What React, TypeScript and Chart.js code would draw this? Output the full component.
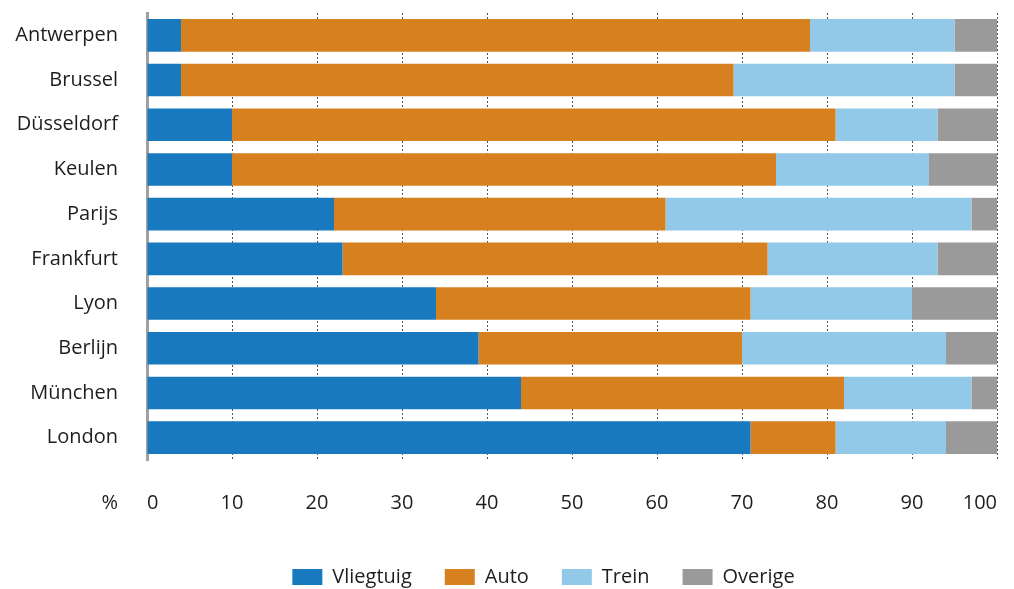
import React, { useEffect, useRef } from "react";
import { Chart, registerables } from "chart.js";

Chart.register(...registerables);

const categories = ["Antwerpen", "Brussel", "Düsseldorf", "Keulen", "Parijs", "Frankfurt", "Lyon", "Berlijn", "München", "London"];
const vliegtuig = [4, 4, 10, 10, 22, 23, 34, 39, 44, 71];
const auto = [74, 65, 71, 64, 39, 50, 37, 31, 38, 10];
const trein = [17, 26, 12, 18, 36, 20, 19, 24, 15, 13];
const overige = [5, 5, 7, 8, 3, 7, 10, 6, 3, 6];
const seriesNames = ["Vliegtuig", "Auto", "Trein", "Overige"];
const seriesColors = ["#1879bf", "#d7801f", "#92c9e8", "#9a9a9a"];
const axisUnit = "%";

const FONT = '"Open Sans", "Noto Sans", sans-serif';
const TEXT = "#1e1e1e";
const TICK_PAD = 31;

const percentPlugin = {
  id: "percentLabel",
  afterLayout(chart: any) {
    // centre the legend under the plotting region like the original
    if (chart.legend) {
      chart.legend.left = 90;
    }
  },
  afterDraw(chart: any) {
    const x = chart.scales.x;
    const ctx = chart.ctx;
    ctx.save();
    ctx.font = `20px ${FONT}`;
    ctx.fillStyle = TEXT;
    ctx.textAlign = "right";
    ctx.textBaseline = "middle";
    ctx.fillText(axisUnit, chart.chartArea.left - 29, x.top + TICK_PAD + 12);
    ctx.restore();
  },
};

function zeroPadding(scale: any) {
  scale.paddingTop = 0;
  scale.paddingBottom = 0;
  scale.paddingLeft = 0;
  scale.paddingRight = 0;
}

export default function App() {
  const ref = useRef<HTMLCanvasElement | null>(null);

  useEffect(() => {
    if (!ref.current) return;
    const data = [vliegtuig, auto, trein, overige];
    const chart = new Chart(ref.current, {
      type: "bar",
      data: {
        labels: categories,
        datasets: seriesNames.map((name, i) => ({
          label: name,
          data: data[i],
          backgroundColor: seriesColors[i],
          borderWidth: 0,
          barPercentage: 0.73,
          categoryPercentage: 1,
        })),
      },
      options: {
        indexAxis: "y",
        animation: false,
        responsive: false,
        maintainAspectRatio: false,
        layout: { autoPadding: false, padding: { top: 13, left: 0, right: 17, bottom: 0 } },
        plugins: {
          tooltip: { enabled: false },
          legend: {
            position: "bottom",
            labels: {
              boxWidth: 30,
              boxHeight: 16,
              padding: 33,
              color: TEXT,
              font: { family: FONT, size: 20, lineHeight: 1.2 },
            },
          },
        },
        scales: {
          x: {
            stacked: true,
            min: 0,
            max: 100,
            ticks: {
              stepSize: 10,
              padding: TICK_PAD,
              align: "inner",
              color: TEXT,
              font: { family: FONT, size: 20, lineHeight: 1.2 },
              maxRotation: 0,
            },
            grid: {
              drawTicks: false,
              color: "#555555",
              lineWidth: 1,
            },
            border: { display: false, dash: [2, 2] },
            afterFit(scale: any) {
              scale.height = 74;
              zeroPadding(scale);
            },
          },
          y: {
            stacked: true,
            ticks: {
              padding: 29,
              color: TEXT,
              font: { family: FONT, size: 20, lineHeight: 1.2 },
            },
            grid: { display: false, drawTicks: false },
            border: { display: true, color: "#a0a0a0", width: 3 },
            afterFit(scale: any) {
              scale.width = 147;
              zeroPadding(scale);
            },
          },
        },
      },
      plugins: [percentPlugin],
    });
    return () => chart.destroy();
  }, []);

  return (
    <div style={{ position: "fixed", left: 0, top: 0, width: 1014, height: 589, overflow: "hidden", background: "#fff" }}>
      <canvas ref={ref} width={1014} height={597} style={{ display: "block", width: 1014, height: 597 }} />
    </div>
  );
}
